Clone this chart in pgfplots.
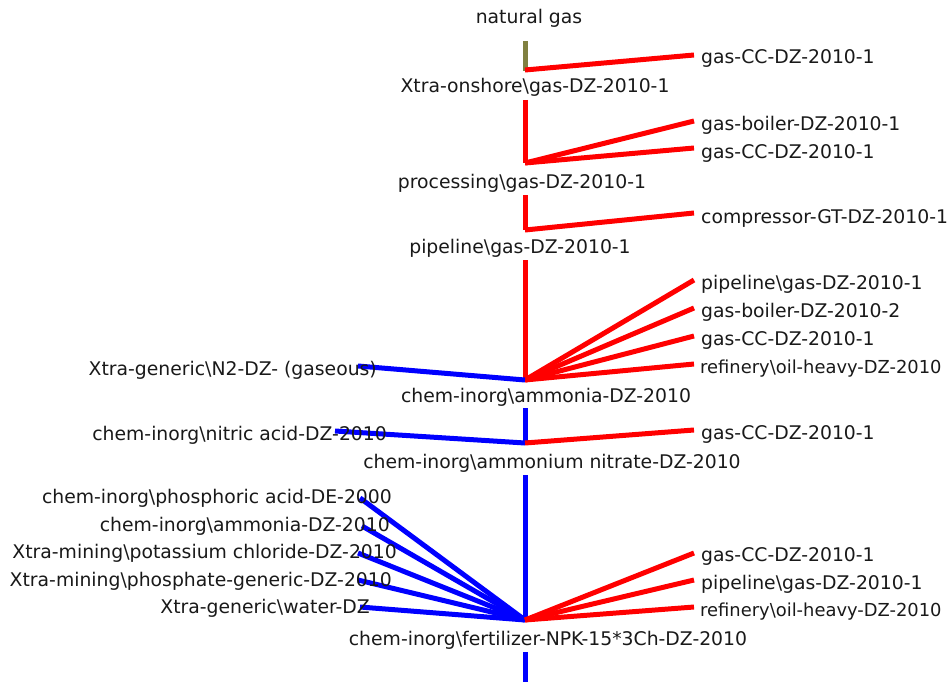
\documentclass[border=0pt]{standalone}
\usepackage{pgfplots}
\pgfplotsset{compat=1.18}
\usepackage{fontspec}
\setmainfont{DejaVu Sans}
\definecolor{olv}{RGB}{128,128,64}
\definecolor{txt}{RGB}{25,25,25}
\begin{document}
\begin{tikzpicture}
\begin{axis}[at={(0,0)},anchor=south west,width=952pt,height=682pt,scale only axis,
  xmin=0,xmax=952,ymin=0,ymax=682,y dir=reverse,hide axis,clip=false,
  every axis plot/.append style={line width=5pt,line cap=butt,line join=miter},
  nodes={font=\fontsize{18.8}{21}\selectfont,text=txt,inner sep=0pt,text height=14pt,text depth=4pt}]
% natural gas -> Xtra-onshore
\addplot[olv] coordinates {(525,41)(525,71)};
\addplot[red] coordinates {(525,70)(694,55)};
% Xtra-onshore -> processing
\addplot[red] coordinates {(525,100)(525,163)};
\addplot[red] coordinates {(525,163)(694,121)};
\addplot[red] coordinates {(525,163)(694,148)};
% processing -> pipeline
\addplot[red] coordinates {(525,195)(525,230)};
\addplot[red] coordinates {(525,230)(694,213)};
% pipeline -> ammonia
\addplot[red] coordinates {(525,260)(525,380)};
\addplot[red] coordinates {(525,380)(694,280)};
\addplot[red] coordinates {(525,380)(694,308)};
\addplot[red] coordinates {(525,380)(694,336)};
\addplot[red] coordinates {(525,380)(694,364)};
\addplot[blue] coordinates {(525,380)(358,366)};
% ammonia -> ammonium nitrate
\addplot[blue] coordinates {(525,408)(525,443)};
\addplot[blue] coordinates {(525,443)(335,431)};
\addplot[red] coordinates {(525,443)(694,430)};
% ammonium nitrate -> fertilizer
\addplot[blue] coordinates {(525,475)(525,620)};
\addplot[blue] coordinates {(525,620)(360,498)};
\addplot[blue] coordinates {(525,620)(362,526)};
\addplot[blue] coordinates {(525,620)(358,553)};
\addplot[blue] coordinates {(525,620)(358,580)};
\addplot[blue] coordinates {(525,620)(360,607)};
\addplot[red] coordinates {(525,620)(694,553)};
\addplot[red] coordinates {(525,620)(694,580)};
\addplot[red] coordinates {(525,620)(694,607)};
% below fertilizer
\addplot[blue] coordinates {(525,652)(525,682)};
% central labels
\node at (axis cs:529,19) {natural gas};
\node at (axis cs:535,88) {Xtra-onshore\textbackslash gas-DZ-2010-1};
\node at (axis cs:522,183) {processing\textbackslash gas-DZ-2010-1};
\node at (axis cs:520,248) {pipeline\textbackslash gas-DZ-2010-1};
\node at (axis cs:546,397) {chem-inorg\textbackslash ammonia-DZ-2010};
\node at (axis cs:552,463) {chem-inorg\textbackslash ammonium nitrate-DZ-2010};
\node at (axis cs:548,640) {chem-inorg\textbackslash fertilizer-NPK-15*3Ch-DZ-2010};
% right labels
\node[anchor=west] at (axis cs:701,59) {gas-CC-DZ-2010-1};
\node[anchor=west] at (axis cs:701,125) {gas-boiler-DZ-2010-1};
\node[anchor=west] at (axis cs:701,153) {gas-CC-DZ-2010-1};
\node[anchor=west] at (axis cs:701,218) {compressor-GT-DZ-2010-1};
\node[anchor=west] at (axis cs:701,284) {pipeline\textbackslash gas-DZ-2010-1};
\node[anchor=west] at (axis cs:701,312) {gas-boiler-DZ-2010-2};
\node[anchor=west] at (axis cs:701,340) {gas-CC-DZ-2010-1};
\node[anchor=west,font=\fontsize{17.9}{21}\selectfont] at (axis cs:700,368) {refinery\textbackslash oil-heavy-DZ-2010};
\node[anchor=west] at (axis cs:701,434) {gas-CC-DZ-2010-1};
\node[anchor=west] at (axis cs:701,556) {gas-CC-DZ-2010-1};
\node[anchor=west] at (axis cs:701,584) {pipeline\textbackslash gas-DZ-2010-1};
\node[anchor=west,font=\fontsize{17.9}{21}\selectfont] at (axis cs:700,611) {refinery\textbackslash oil-heavy-DZ-2010};
% left labels
\node[anchor=east] at (axis cs:377,370) {Xtra-generic\textbackslash N2-DZ- (gaseous)};
\node[anchor=east] at (axis cs:387,435) {chem-inorg\textbackslash nitric acid-DZ-2010};
\node[anchor=east] at (axis cs:392,498) {chem-inorg\textbackslash phosphoric acid-DE-2000};
\node[anchor=east] at (axis cs:390,526) {chem-inorg\textbackslash ammonia-DZ-2010};
\node[anchor=east] at (axis cs:397,553) {Xtra-mining\textbackslash potassium chloride-DZ-2010};
\node[anchor=east] at (axis cs:392,581) {Xtra-mining\textbackslash phosphate-generic-DZ-2010};
\node[anchor=east] at (axis cs:370,608) {Xtra-generic\textbackslash water-DZ};
\end{axis}
\pgfresetboundingbox
\path (0,0) rectangle (952pt,682pt);
\end{tikzpicture}
\end{document}
